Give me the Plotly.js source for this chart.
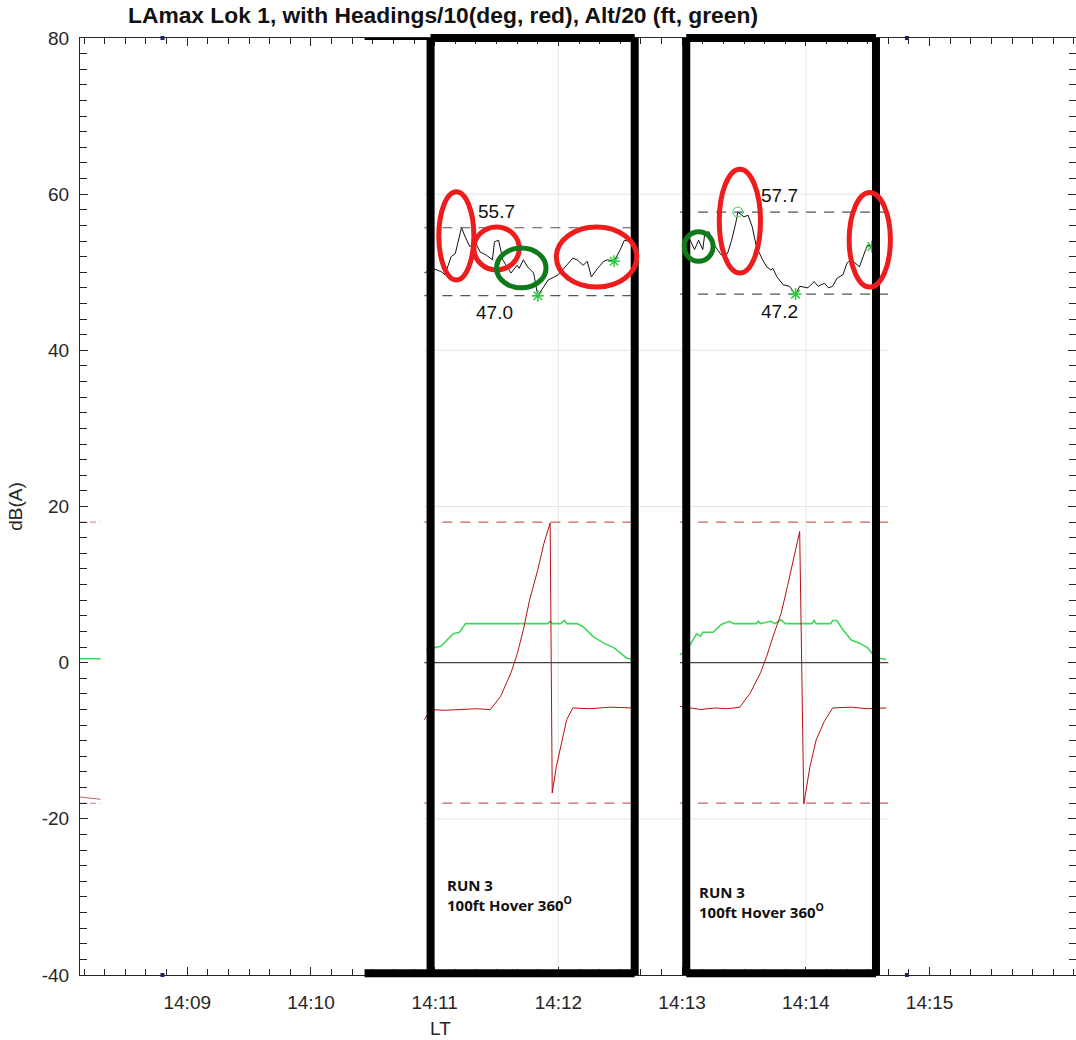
<!DOCTYPE html>
<html><head><meta charset="utf-8">
<script src="https://cdn.plot.ly/plotly-3.0.1.min.js"></script>
<style>html,body{margin:0;padding:0;background:#fff}#chart{width:1076px;height:1040px}</style>
</head><body><div id="chart"></div>
<script>
const DAY = '2020-01-01 ';
const T = a => a.map(s => DAY + s);

// ---- LAmax (dB(A)), run 1 and run 2
const lamaxTime1 = ['14:10:55','14:10:59','14:11:03','14:11:05','14:11:08','14:11:10','14:11:11','14:11:13','14:11:15','14:11:17','14:11:20','14:11:22','14:11:25','14:11:28','14:11:29','14:11:31','14:11:33','14:11:35','14:11:37','14:11:40','14:11:41','14:11:43','14:11:45','14:11:48','14:11:50','14:11:53','14:11:55','14:11:58','14:12:00','14:12:02','14:12:07','14:12:09','14:12:12','14:12:14','14:12:16','14:12:19','14:12:22','14:12:24','14:12:27','14:12:30','14:12:32','14:12:35','14:12:36'];
const lamaxVal1  = [49.9,50.5,50.1,49.7,52.0,52.4,53.5,55.7,54.4,53.3,53.7,52.6,52.2,51.6,53.9,54.1,51.6,50.7,49.9,50.9,50.5,51.6,50.7,49.9,47.0,48.2,49.0,49.4,49.7,50.3,51.8,51.6,50.9,51.4,49.4,50.5,51.4,51.6,51.4,52.9,54.1,53.9,53.5];
const lamaxTime2 = ['14:13:03','14:13:06','14:13:08','14:13:10','14:13:11','14:13:13','14:13:15','14:13:17','14:13:19','14:13:22','14:13:24','14:13:26','14:13:27','14:13:30','14:13:32','14:13:34','14:13:36','14:13:39','14:13:41','14:13:43','14:13:44','14:13:46','14:13:49','14:13:52','14:13:55','14:13:57','14:14:01','14:14:04','14:14:06','14:14:09','14:14:11','14:14:13','14:14:15','14:14:18','14:14:20','14:14:22','14:14:26','14:14:29','14:14:30','14:14:32','14:14:34','14:14:35'];
const lamaxVal2  = [54.6,52.9,54.1,52.9,55.0,55.2,53.7,52.9,52.2,52.4,54.1,56.3,57.7,57.1,57.3,55.8,53.3,51.6,50.7,50.3,50.5,49.4,48.4,48.2,47.2,48.2,48.0,48.8,48.2,48.6,48.0,48.2,49.2,49.7,51.2,51.6,50.7,52.9,53.5,53.3,52.4,51.6];

// ---- Heading / 10 (deg), red
const headTime1 = ['14:10:55','14:10:58','14:11:05','14:11:12','14:11:20','14:11:27','14:11:32','14:11:37','14:11:40','14:11:43','14:11:46','14:11:50','14:11:53','14:11:56','14:11:57','14:11:59','14:12:02','14:12:04','14:12:07','14:12:15','14:12:25','14:12:36'];
const headVal1  = [-7.3,-6.0,-6.1,-6.0,-5.9,-6.0,-4.3,-1.3,1.1,4.2,8.0,11.9,15.3,17.9,-16.7,-13.3,-9.9,-7.3,-5.8,-5.9,-5.7,-5.8];
const headTime2 = ['14:12:59','14:13:09','14:13:16','14:13:22','14:13:28','14:13:33','14:13:38','14:13:41','14:13:44','14:13:48','14:13:51','14:13:54','14:13:57','14:13:59','14:14:02','14:14:05','14:14:09','14:14:13','14:14:22','14:14:30','14:14:39'];
const headVal2  = [-5.6,-6.0,-5.8,-5.9,-5.7,-3.9,-1.3,0.8,3.3,6.3,9.7,13.2,16.8,-18.1,-13.3,-9.9,-7.5,-5.8,-5.7,-5.9,-5.8];

// ---- Altitude / 20 (ft), green
const altTime1 = ['14:10:56','14:11:00','14:11:03','14:11:06','14:11:09','14:11:12','14:11:15','14:11:55','14:11:56','14:11:57','14:12:01','14:12:03','14:12:04','14:12:09','14:12:12','14:12:17','14:12:22','14:12:27','14:12:30','14:12:33','14:12:36'];
const altVal1  = [1.7,1.9,2.1,2.9,3.7,3.9,5.0,5.0,5.3,5.0,5.0,5.4,5.0,5.0,4.6,3.3,2.5,1.9,1.2,0.6,0.4];
const altTime2 = ['14:12:59','14:13:03','14:13:07','14:13:09','14:13:10','14:13:15','14:13:19','14:13:23','14:13:25','14:13:36','14:13:37','14:13:38','14:13:43','14:13:45','14:13:48','14:13:50','14:14:03','14:14:04','14:14:05','14:14:12','14:14:13','14:14:15','14:14:18','14:14:22','14:14:26','14:14:30','14:14:32','14:14:35','14:14:39'];
const altVal2  = [1.0,1.9,3.7,3.4,3.9,3.9,4.9,5.3,5.0,5.0,5.3,5.0,5.3,5.0,5.5,5.0,5.0,5.4,5.0,5.0,5.4,5.4,4.2,2.9,2.5,1.9,1.2,0.6,0.4];

// ---- left-edge fragments
const edgeTime = ['14:08:08','14:08:18'];
const edgeAlt  = [0.5,0.5];
const edgeHead = [-17.2,-17.5];

// ---- markers (green)
const starTime = ['14:11:50','14:12:27','14:13:55','14:14:32'];
const starVal  = [47.0,51.4,47.2,53.3];
const circTime = ['14:13:27'];
const circVal  = [57.7];
const blueTime = ['14:08:48','14:14:49'];

// ---- reference levels per run
const runStart = ['14:10:55','14:12:59'];
const runEnd   = ['14:12:38','14:14:40'];
const runMax   = [55.7,57.7];
const runMin   = [47.0,47.2];
const runMaxLabel = ['55.7','57.7'];
const runMinLabel = ['47.0','47.2'];
const maxLabelTime = ['14:11:30','14:13:47'];
const minLabelTime = ['14:11:29','14:13:47'];
const headLimits = [18,-18];
const gridY = [60,40,20,-20];
const gridX = ['14:11:00','14:12:00','14:13:00','14:14:00'];

// ---- axis ticks
const xTicks = ['14:09:00','14:10:00','14:11:00','14:12:00','14:13:00','14:14:00','14:15:00'];
const xTickText = ['14:09','14:10','14:11','14:12','14:13','14:14','14:15'];
const yTicks = [-40,-20,0,20,40,60,80];
const yTickText = ['-40','-20','0','20','40','60','80'];

// ---- black highlight boxes
const boxLeft  = ['14:10:58','14:13:02'];
const boxRight = ['14:12:37','14:14:34'];
const box1BottomStart = '14:10:26';

// ---- highlight ellipses
const ellX0 = ['14:11:02','14:11:19','14:11:30','14:11:59','14:13:01','14:13:18','14:14:21'];
const ellX1 = ['14:11:19','14:11:41','14:11:54','14:12:38','14:13:15','14:13:38','14:14:41'];
const ellY0 = [49.0,50.3,48.0,48.1,51.4,49.9,48.1];
const ellY1 = [60.3,55.8,53.1,55.8,55.2,63.2,60.2];
const ellColor = ['red','red','green','red','green','red','red'];

const runLabel = 'RUN 3<br>100ft Hover 360<sup>O</sup>';
const runLabelTime = ['14:11:05','14:13:07'];
const runLabelY = [-29.8,-30.6];

const FONT = 'Liberation Sans, Arial, sans-serif';

const traces = [
  {x:T(lamaxTime1), y:lamaxVal1, mode:'lines', line:{color:'#111', width:1}},
  {x:T(lamaxTime2), y:lamaxVal2, mode:'lines', line:{color:'#111', width:1}},
  {x:T(altTime1), y:altVal1, mode:'lines', line:{color:'#3fd85a', width:1.6}},
  {x:T(altTime2), y:altVal2, mode:'lines', line:{color:'#3fd85a', width:1.6}},
  {x:T(headTime1), y:headVal1, mode:'lines', line:{color:'#b80f0f', width:1}},
  {x:T(headTime2), y:headVal2, mode:'lines', line:{color:'#b80f0f', width:1}},
  {x:T(edgeTime), y:edgeAlt, mode:'lines', line:{color:'#3fd85a', width:1.5}},
  {x:T(edgeTime), y:edgeHead, mode:'lines', line:{color:'#c86060', width:1}},
  {x:T(starTime), y:starVal, mode:'markers', marker:{symbol:'asterisk-open', size:10, color:'#2ecc40', line:{color:'#2ecc40', width:1.5}}},
  {x:T(circTime), y:circVal, mode:'markers', marker:{symbol:'circle-open', size:10, color:'#5fd87a', line:{width:1.2}}},
  {x:T(blueTime).concat(T(blueTime)), y:[80,80,-40,-40], mode:'markers', cliponaxis:false, marker:{symbol:'square', size:4, color:'#1a237e'}}
];

const shapes = [];
gridY.forEach(v => shapes.push({type:'line', layer:'below', xref:'x', yref:'y', x0:DAY+runStart[0], x1:DAY+runEnd[1], y0:v, y1:v, line:{color:'#e4e4e4', width:1}}));
gridX.forEach(t => shapes.push({type:'line', layer:'below', xref:'x', yref:'paper', x0:DAY+t, x1:DAY+t, y0:0, y1:1, line:{color:'#e8e8e8', width:1}}));
for (let i = 0; i < runStart.length; i++) {
  const x0 = DAY+runStart[i], x1 = DAY+runEnd[i];
  shapes.push({type:'line', layer:'below', xref:'x', yref:'y', x0, x1, y0:0, y1:0, line:{color:'#444', width:1.3}});
  shapes.push({type:'line', layer:'below', xref:'x', yref:'y', x0, x1, y0:runMax[i], y1:runMax[i], line:{color:'#555', width:1.2, dash:'10px,8px'}});
  shapes.push({type:'line', layer:'below', xref:'x', yref:'y', x0, x1, y0:runMin[i], y1:runMin[i], line:{color:'#555', width:1.2, dash:'10px,8px'}});
  headLimits.forEach(v => shapes.push({type:'line', layer:'below', xref:'x', yref:'y', x0, x1, y0:v, y1:v, line:{color:'#c86464', width:1.2, dash:'10px,8px'}}));
}
headLimits.forEach(v => shapes.push({type:'line', layer:'below', xref:'x', yref:'y', x0:DAY+edgeTime[0], x1:DAY+edgeTime[1], y0:v, y1:v, line:{color:'#d08080', width:1, dash:'6px,4px'}}));
const BK = {color:'#000', width:8};
for (let i = 0; i < boxLeft.length; i++) {
  const x0 = DAY+boxLeft[i], x1 = DAY+boxRight[i];
  shapes.push({type:'line', xref:'x', yref:'paper', x0, x1:x0, y0:0, y1:1, line:BK});
  shapes.push({type:'line', xref:'x', yref:'paper', x0:x1, x1, y0:0, y1:1, line:BK});
  shapes.push({type:'line', xref:'x', yref:'paper', x0, x1, y0:1, y1:1, line:BK});
  shapes.push({type:'line', xref:'x', yref:'paper', x0: i===0 ? DAY+box1BottomStart : x0, x1, y0:0.002, y1:0.002, line:BK});
}
shapes.push({type:'line', xref:'x', yref:'paper', x0:DAY+box1BottomStart, x1:DAY+boxLeft[0], y0:0.999, y1:0.999, line:{color:'#000', width:2}});
for (let i = 0; i < ellX0.length; i++) {
  shapes.push({type:'circle', xref:'x', yref:'y', x0:DAY+ellX0[i], x1:DAY+ellX1[i], y0:ellY0[i], y1:ellY1[i],
    line:{color: ellColor[i]==='red' ? '#ee1c1c' : '#0e7a1a', width:5}});
}

const annotations = [];
for (let i = 0; i < runStart.length; i++) {
  annotations.push({xref:'x', yref:'y', x:DAY+maxLabelTime[i], y:runMax[i]+2.1, text:runMaxLabel[i], showarrow:false, font:{family:FONT, size:19, color:'#111'}});
  annotations.push({xref:'x', yref:'y', x:DAY+minLabelTime[i], y:runMin[i]-2.2, text:runMinLabel[i], showarrow:false, font:{family:FONT, size:19, color:'#111'}});
  annotations.push({xref:'x', yref:'y', x:DAY+runLabelTime[i], y:runLabelY[i], text:runLabel, showarrow:false, xanchor:'left', align:'left', font:{family:'Open Sans, Noto Sans, sans-serif', size:15, color:'#111', weight:'bold'}});
}
annotations.push({xref:'x', yref:'paper', x:DAY+'14:11:03', y:-(1028-975)/937, yanchor:'middle', text:'LT', showarrow:false, font:{family:FONT, size:19, color:'#262626'}});

const axisCommon = {
  showline:true, linecolor:'#262626', linewidth:1, mirror:'allticks', ticks:'inside', ticklen:8, tickcolor:'#262626',
  showgrid:false, zeroline:false, tickfont:{family:FONT, size:19, color:'#262626'}, tickmode:'array'
};

const layout = {
  width:1076, height:1040,
  margin:{l:80, r:0, t:38, b:65},
  paper_bgcolor:'#fff', plot_bgcolor:'#fff',
  showlegend:false,
  title:{text:'LAmax Lok 1, with Headings/10(deg, red), Alt/20 (ft, green)', xref:'container', yref:'container', x:128/1076, xanchor:'left', y:1-15/1040, yanchor:'middle',
    font:{family:FONT, size:22.8, color:'#111', weight:'bold'}},
  xaxis: Object.assign({}, axisCommon, {
    type:'date', range:[DAY+'14:08:08', DAY+'14:16:11'],
    tickvals:T(xTicks), ticktext:xTickText, ticklabelstandoff:10,
    minor:{tick0:DAY+'14:09:00', dtick:10000, ticks:'inside', ticklen:6, tickcolor:'#262626', showgrid:false}
  }),
  yaxis: Object.assign({}, axisCommon, {
    range:[-40,80], tickvals:yTicks, ticktext:yTickText, ticklabelstandoff:6,
    minor:{tick0:0, dtick:2, ticks:'inside', ticklen:7, tickcolor:'#262626', showgrid:false},
    title:{text:'dB(A)', standoff:14, font:{family:FONT, size:19, color:'#262626'}}
  }),
  shapes, annotations
};

Plotly.newPlot('chart', traces, layout, {displayModeBar:false, staticPlot:true});
</script>
</body></html>
